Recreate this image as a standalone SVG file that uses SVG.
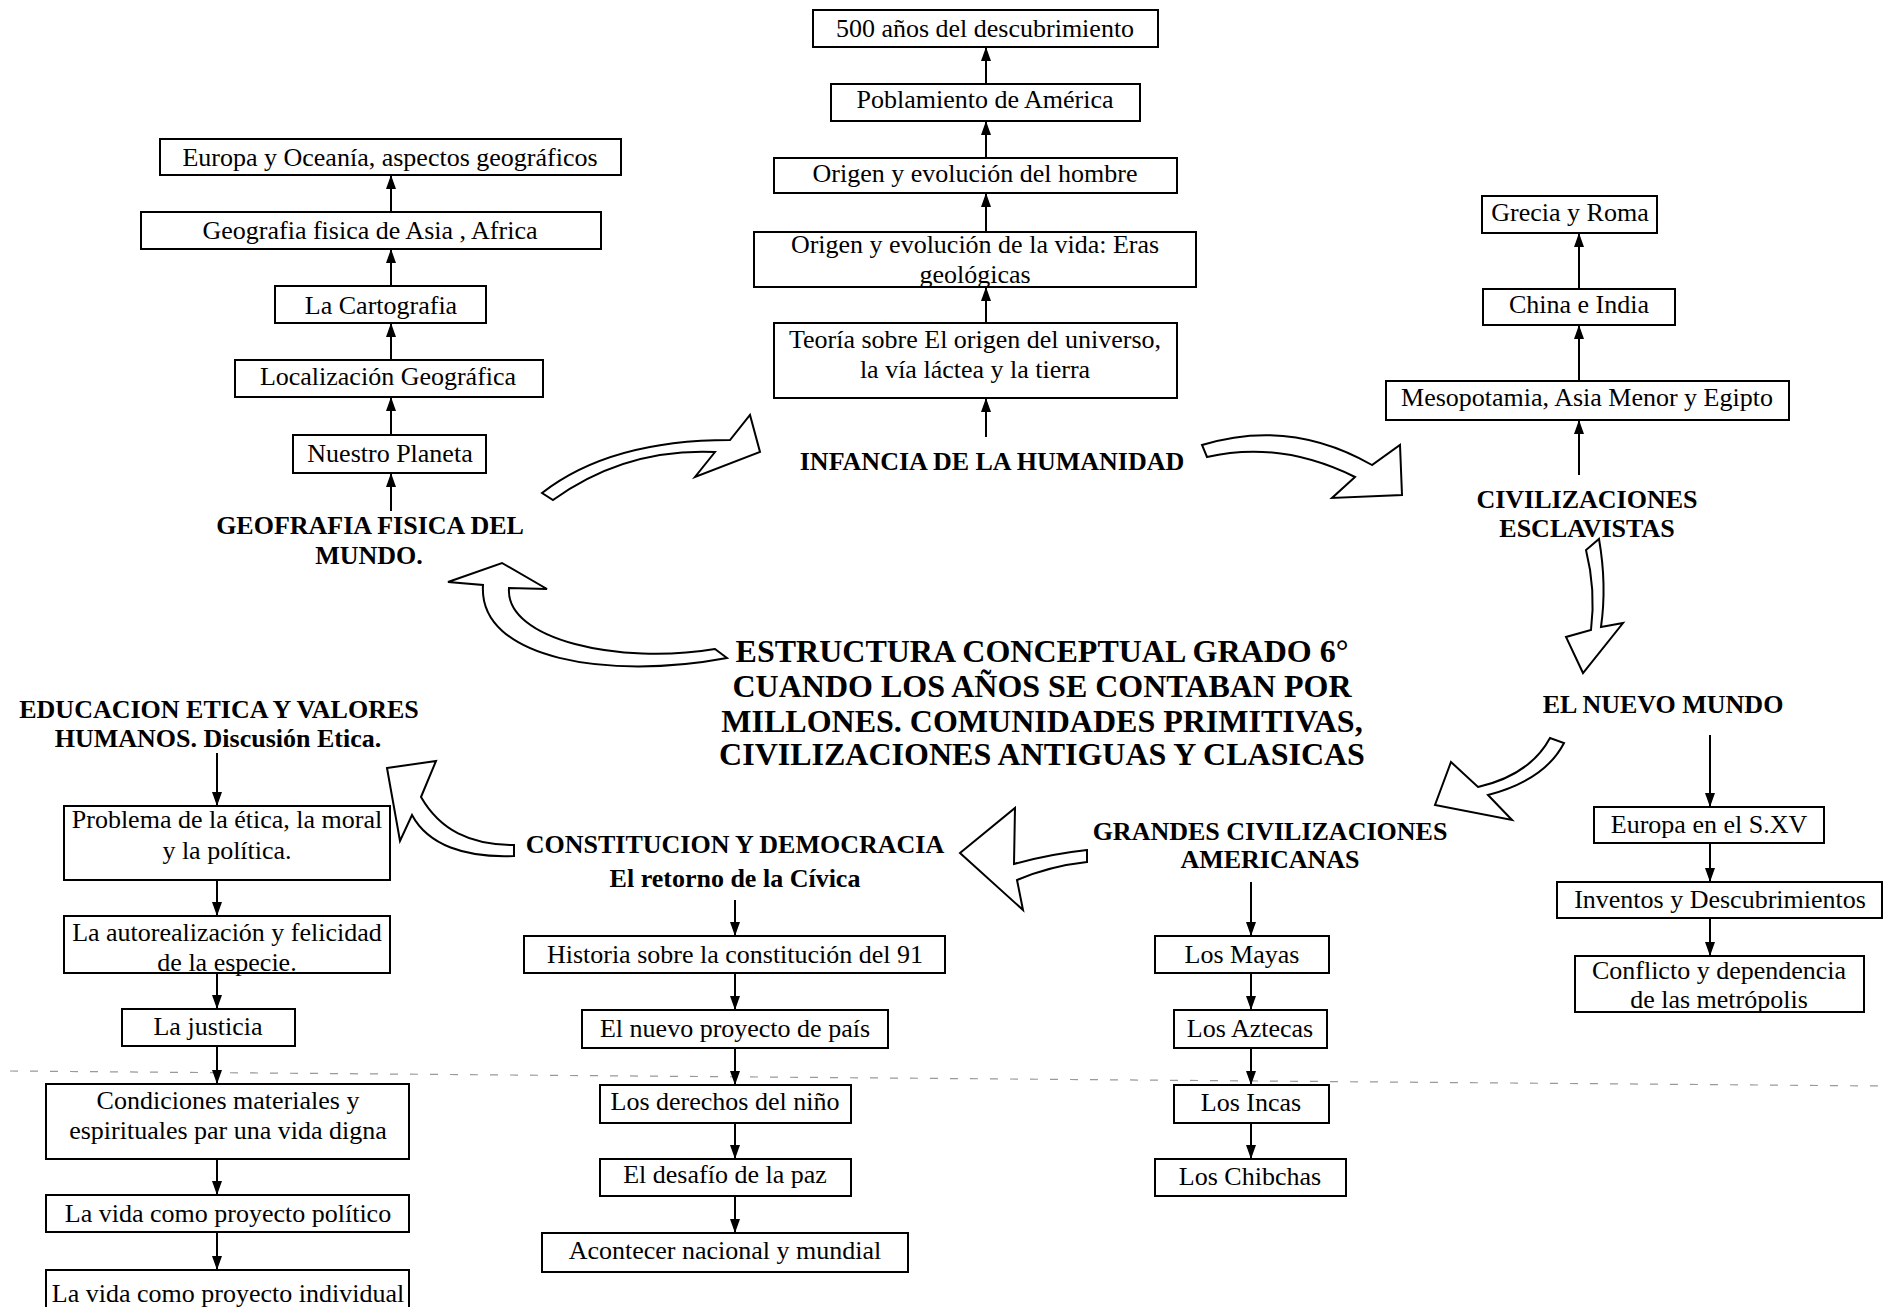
<svg xmlns="http://www.w3.org/2000/svg" width="1883" height="1307" viewBox="0 0 1883 1307">
<style>
.box{fill:#fff;stroke:#000;stroke-width:2}
.t{font-family:"Liberation Serif","Times New Roman",serif;font-size:26px;text-anchor:middle;fill:#000}
.h{font-weight:bold}
.ti{font-size:32px;font-weight:bold}
.ln{stroke:#000;stroke-width:2;fill:none;marker-end:url(#ah)}
.blk{fill:#fff;stroke:#000;stroke-width:2;stroke-linejoin:miter}
.fold{stroke:#999;stroke-width:1.2;stroke-dasharray:8 12;fill:none}
</style>
<defs>
<marker id="ah" viewBox="0 0 14 10" refX="14" refY="5" markerWidth="14" markerHeight="10" markerUnits="userSpaceOnUse" orient="auto">
<path d="M0,0 L14,5 L0,10 z" fill="#000"/>
</marker>
</defs>
<rect width="1883" height="1307" fill="#fff"/>
<path class="fold" d="M10,1071 L1883,1086"/>

<!-- Geografia column -->
<g id="geo-header"><text class="t h" x="370" y="534">GEOFRAFIA FISICA DEL</text><text class="t h" x="369" y="564">MUNDO.</text></g>
<g id="geo-europa"><rect class="box" x="160" y="139" width="461" height="36"/><text class="t" x="390" y="166">Europa y Oceanía, aspectos geográficos</text></g>
<g id="geo-asia"><rect class="box" x="141" y="212" width="460" height="37"/><text class="t" x="370" y="239">Geografia fisica de Asia , Africa</text></g>
<g id="geo-carto"><rect class="box" x="275" y="286" width="211" height="37"/><text class="t" x="381" y="314">La Cartografia</text></g>
<g id="geo-local"><rect class="box" x="235" y="360" width="308" height="37"/><text class="t" x="388" y="385">Localización Geográfica</text></g>
<g id="geo-planeta"><rect class="box" x="293" y="435" width="193" height="38"/><text class="t" x="390" y="462">Nuestro Planeta</text></g>

<!-- Infancia column -->
<g id="inf-header"><text class="t h" x="992" y="470">INFANCIA DE LA HUMANIDAD</text></g>
<g id="inf-500"><rect class="box" x="813" y="10" width="345" height="37"/><text class="t" x="985" y="37">500 años del descubrimiento</text></g>
<g id="inf-poblamiento"><rect class="box" x="831" y="84" width="309" height="37"/><text class="t" x="985" y="108">Poblamiento de América</text></g>
<g id="inf-hombre"><rect class="box" x="774" y="158" width="403" height="35"/><text class="t" x="975" y="182">Origen y evolución del hombre</text></g>
<g id="inf-vida"><rect class="box" x="754" y="232" width="442" height="55"/><text class="t" x="975" y="253">Origen y evolución de la vida: Eras</text><text class="t" x="975" y="283">geológicas</text></g>
<g id="inf-teoria"><rect class="box" x="774" y="323" width="403" height="75"/><text class="t" x="975" y="348">Teoría sobre El origen del universo,</text><text class="t" x="975" y="378">la vía láctea y la tierra</text></g>

<!-- Civilizaciones esclavistas -->
<g id="civ-header"><text class="t h" x="1587" y="508">CIVILIZACIONES</text><text class="t h" x="1587" y="537">ESCLAVISTAS</text></g>
<g id="civ-grecia"><rect class="box" x="1482" y="196" width="175" height="37"/><text class="t" x="1570" y="221">Grecia y Roma</text></g>
<g id="civ-china"><rect class="box" x="1483" y="289" width="192" height="36"/><text class="t" x="1579" y="313">China e India</text></g>
<g id="civ-meso"><rect class="box" x="1386" y="381" width="403" height="39"/><text class="t" x="1587" y="406">Mesopotamia, Asia Menor y Egipto</text></g>

<!-- Title -->
<g id="title"><text class="t ti" x="1042" y="662">ESTRUCTURA CONCEPTUAL GRADO 6°</text><text class="t ti" x="1042" y="697">CUANDO LOS AÑOS SE CONTABAN POR</text><text class="t ti" x="1042" y="732">MILLONES. COMUNIDADES PRIMITIVAS,</text><text class="t ti" x="1042" y="765">CIVILIZACIONES ANTIGUAS Y CLASICAS</text></g>

<!-- Nuevo mundo -->
<g id="nm-header"><text class="t h" x="1663" y="713">EL NUEVO MUNDO</text></g>
<g id="nm-europa"><rect class="box" x="1594" y="807" width="230" height="36"/><text class="t" x="1709" y="833">Europa en el S.XV</text></g>
<g id="nm-inventos"><rect class="box" x="1557" y="882" width="325" height="36"/><text class="t" x="1720" y="908">Inventos y Descubrimientos</text></g>
<g id="nm-conflicto"><rect class="box" x="1575" y="956" width="289" height="56"/><text class="t" x="1719" y="979">Conflicto y dependencia</text><text class="t" x="1719" y="1008">de las metrópolis</text></g>

<!-- Grandes civilizaciones -->
<g id="gc-header"><text class="t h" x="1270" y="840">GRANDES CIVILIZACIONES</text><text class="t h" x="1270" y="868">AMERICANAS</text></g>
<g id="gc-mayas"><rect class="box" x="1155" y="936" width="174" height="37"/><text class="t" x="1242" y="963">Los Mayas</text></g>
<g id="gc-aztecas"><rect class="box" x="1174" y="1010" width="153" height="38"/><text class="t" x="1250" y="1037">Los Aztecas</text></g>
<g id="gc-incas"><rect class="box" x="1174" y="1085" width="155" height="38"/><text class="t" x="1251" y="1111">Los Incas</text></g>
<g id="gc-chibchas"><rect class="box" x="1155" y="1159" width="191" height="37"/><text class="t" x="1250" y="1185">Los Chibchas</text></g>

<!-- Constitucion -->
<g id="con-header"><text class="t h" x="735" y="853">CONSTITUCION Y DEMOCRACIA</text><text class="t h" x="735" y="887">El retorno de la Cívica</text></g>
<g id="con-historia"><rect class="box" x="524" y="936" width="421" height="37"/><text class="t" x="735" y="963">Historia sobre la constitución del 91</text></g>
<g id="con-nuevo"><rect class="box" x="582" y="1010" width="306" height="38"/><text class="t" x="735" y="1037">El nuevo proyecto de país</text></g>
<g id="con-derechos"><rect class="box" x="600" y="1085" width="251" height="38"/><text class="t" x="725" y="1110">Los derechos del niño</text></g>
<g id="con-paz"><rect class="box" x="600" y="1159" width="251" height="37"/><text class="t" x="725" y="1183">El desafío de la paz</text></g>
<g id="con-acontecer"><rect class="box" x="542" y="1233" width="366" height="39"/><text class="t" x="725" y="1259">Acontecer nacional y mundial</text></g>

<!-- Educacion -->
<g id="edu-header"><text class="t h" x="219" y="718">EDUCACION ETICA Y VALORES</text><text class="t h" x="218" y="747">HUMANOS. Discusión Etica.</text></g>
<g id="edu-problema"><rect class="box" x="64" y="806" width="326" height="74"/><text class="t" x="227" y="828">Problema de la ética, la moral</text><text class="t" x="227" y="859">y la política.</text></g>
<g id="edu-autorrealizacion"><rect class="box" x="64" y="916" width="326" height="57"/><text class="t" x="227" y="941">La autorealización y felicidad</text><text class="t" x="227" y="971">de la especie.</text></g>
<g id="edu-justicia"><rect class="box" x="122" y="1009" width="173" height="37"/><text class="t" x="208" y="1035">La justicia</text></g>
<g id="edu-condiciones"><rect class="box" x="46" y="1084" width="363" height="75"/><text class="t" x="228" y="1109">Condiciones materiales y</text><text class="t" x="228" y="1139">espirituales par una vida digna</text></g>
<g id="edu-politico"><rect class="box" x="46" y="1195" width="363" height="37"/><text class="t" x="228" y="1222">La vida como proyecto político</text></g>
<g id="edu-individual"><rect class="box" x="46" y="1270" width="363" height="70"/><text class="t" x="228" y="1302">La vida como proyecto individual</text></g>

<g id="connectors">
<line class="ln" x1="391" y1="511" x2="391" y2="473"/>
<line class="ln" x1="391" y1="435" x2="391" y2="397"/>
<line class="ln" x1="391" y1="360" x2="391" y2="323"/>
<line class="ln" x1="391" y1="286" x2="391" y2="249"/>
<line class="ln" x1="391" y1="212" x2="391" y2="175"/>
<line class="ln" x1="986" y1="437" x2="986" y2="398"/>
<line class="ln" x1="986" y1="323" x2="986" y2="287"/>
<line class="ln" x1="986" y1="232" x2="986" y2="193"/>
<line class="ln" x1="986" y1="158" x2="986" y2="121"/>
<line class="ln" x1="986" y1="84" x2="986" y2="47"/>
<line class="ln" x1="1579" y1="475" x2="1579" y2="420"/>
<line class="ln" x1="1579" y1="381" x2="1579" y2="325"/>
<line class="ln" x1="1579" y1="289" x2="1579" y2="233"/>
<line class="ln" x1="1710" y1="735" x2="1710" y2="807"/>
<line class="ln" x1="1710" y1="843" x2="1710" y2="882"/>
<line class="ln" x1="1710" y1="918" x2="1710" y2="956"/>
<line class="ln" x1="1251" y1="882" x2="1251" y2="936"/>
<line class="ln" x1="1251" y1="973" x2="1251" y2="1010"/>
<line class="ln" x1="1251" y1="1048" x2="1251" y2="1085"/>
<line class="ln" x1="1251" y1="1123" x2="1251" y2="1159"/>
<line class="ln" x1="735" y1="900" x2="735" y2="936"/>
<line class="ln" x1="735" y1="973" x2="735" y2="1010"/>
<line class="ln" x1="735" y1="1048" x2="735" y2="1085"/>
<line class="ln" x1="735" y1="1123" x2="735" y2="1159"/>
<line class="ln" x1="735" y1="1196" x2="735" y2="1233"/>
<line class="ln" x1="217" y1="753" x2="217" y2="806"/>
<line class="ln" x1="217" y1="880" x2="217" y2="916"/>
<line class="ln" x1="217" y1="973" x2="217" y2="1009"/>
<line class="ln" x1="217" y1="1046" x2="217" y2="1084"/>
<line class="ln" x1="217" y1="1159" x2="217" y2="1195"/>
<line class="ln" x1="217" y1="1232" x2="217" y2="1270"/>
<!-- block arrows -->
<path class="blk" d="M542,493 Q610,440 730,440 L750,415 L760,452 L695,477 L715,452 Q625,448 553,500 Z"/>
<path class="blk" d="M1202,445 Q1290,418 1372,465 L1400,445 L1402,495 L1332,498 L1355,477 Q1280,440 1207,457 Z"/>
<path class="blk" d="M1586,550 Q1596,590 1591,630 L1566,637 L1583,673 L1623,623 L1601,627 Q1607,585 1599,539 Z"/>
<path class="blk" d="M1550,738 Q1530,775 1478,787 L1451,762 L1435,805 L1512,820 L1488,795 Q1545,780 1564,743 Z"/>
<path class="blk" d="M1087,850 Q1050,854 1014,864 L1015,808 L960,853 L1023,910 L1017,880 Q1050,866 1087,862 Z"/>
<path class="blk" d="M387,768 L436,761 L421,797 C440,830 470,845 514,845 L514,856 C465,858 428,845 412,815 L400,841 Z"/>
<path class="blk" d="M727,658 L715,649 C620,665 505,640 509,588 L547,589 L502,563 L448,582 L483,585 C478,660 610,680 727,658 Z"/>
</g>
</svg>
